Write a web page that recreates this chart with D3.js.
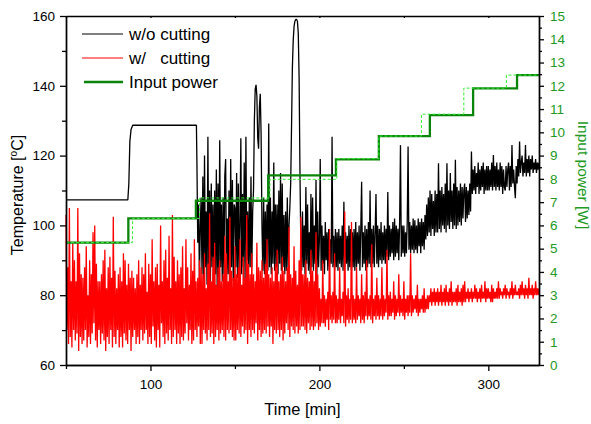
<!DOCTYPE html>
<html>
<head>
<meta charset="utf-8">
<script src="https://cdn.jsdelivr.net/npm/d3@7"></script>
<style>
  body { margin: 0; background: #fff; }
  text { font-family: "Liberation Sans", Arial, sans-serif; }
</style>
</head>
<body>
<div id="chart"></div>
<script>
// readings every half minute
var step = 0.5;

// w/ cutting (red), 50..330 min
var redStart = 50;
var redTemp = [
  103,70,88,66,105,68,84,65,95,70,90,67,84,69,105,64,92,68,86,66,
  85,67,88,70,94,65,80,68,90,66,86,69,98,72,100,67,89,65,84,70,
  84,66,86,69,90,67,93,64,82,68,88,66,91,70,85,65,102.5,68,87,66,
  82,70,86,65,88,68,84,65,92,69,90,67,83,66,89,70,85,64,87,68,
  85,70,82,66,86,68,90,66,83,70,88,67,86,69,92,70,81,66,89,68,
  86,66,96,71,84,67,88,65,89,70,83,65,100,72,84,68,90,66,93,69,
  85,67,97,70,82,66,103,68,91,70,84,66,90,69,86,66,88,68,94,67,
  82,69,96,72,88,67,83,70,92,66,87,67,96,70,84,68,85,71,90,66,
  88,66,86,70,92,69,82,67,89,70,103.5,68,84,69,91,66,95,68,83,70,
  88,67,90,69,84,70,86,68,97,67,92,70,84,69,102.5,70,87,68,85,67,
  94,67,86,70,88,69,96,68,83,71,91,69,85,70,103,66,89,70,86,68,
  92,70,86,69,84,72,95,67,88,70,87,68,90,69,85,70,89,69,96,71,
  86,68,85,71,88,66,84,70,89,69,93,70,84,68,86,70,91,67,87,69,
  84,72,88,70,99.6,68,86,71,85,70,94,69,87,71,83,69,90,70,102.5,71,
  86,71,86,70,90,69,85,72,84,70,93,71,87,70,84,71,98,72,86,70,
  82,71,79,72,90,72,80,71,79,73,81,70,99,73,80,72,81,73,92,72,
  80,72,79,73,88,72,79,74,81,72,104,71,80,73,82,72,79,73,101,72,
  80,73,79,72,88,73,80,74,79,72,86,73,80,72,81,74,90,73,79,74,
  80,73,94.6,72,79,74,80,73,85,74,80,73,79,74,88,73,80,74,79,75,
  93,73,80,74,81,74,79,75,84,73,80,74,79,75,86,74,80,75,79,74,
  84,73,79,75,80,74,80,75,92,74,80,75,79,76,80,75,83,74,79,75,
  79,76,80,75,82,75,79,76,80,76,80,78,82,77,81,78,82,77,81,78,
  82,77,81,78,83,77,81,78,82,77,83,78,81,77,82,78,84,77,81,78,
  81,78,82,77,83,78,81,78,82,77,83,78,84,78,81,79,82,78,81,79,
  82,78,81,79,83,79,82,78,81,79,82,78,83,79,81,79,84,78,82,79,
  82,79,81,78,83,78,82,79,81,79,82,79,84,79,82,80,81,79,82,80,
  83,79,82,80,81,79,82,80,84,79,82,80,83,80,81,80,82,79,83,80,
  84,80,82,79,83,80,82,79,85,80,82,80,83,79,82,80,84,80,82,80,
  82
];

// w/o cutting (black): quiet part before cutting starts
var blackHeadTime = [50, 86.6, 87.2, 87.8, 88.5, 89.5, 127.2];
var blackHeadTemp = [107.3, 107.3, 112, 124, 127.5, 128.7, 128.7];
// then noisy part, every half minute from 127.5 min
var blackNoiseStart = 127.5;
var blackNoise = [
  118,95,106,84,100,
  108,86,114,84,120,88,104,83,125.4,87,110,84,112,88,106,83,110,86,116,82,
  112,85,124.4,88,106,84,108,86,114,119,84,102,86,110,85,119,88,113,84,106,
  105,88,115,85,112,87,100,125,86,109,88,118,84,125.4,90,104,86,108,88,114,
  88,104,110,130,139,140.3,137,125,122,134,137.7,126,100,87,108,86,104,88,106,87,
  129.2,88,108,86,104,89,118,87,106,88,106,86,110,89,115,87,112,88,103,86,
  104,87,108,88,100,105,112,128,145,153,157,158.5,159,159,158.5,155,142,115,95,87,
  104,88,100,86,111,89,106,87,98,86,109,88,108,87,100,89,113,86,104,88,
  96,119,87,100,89,97,86,101,90,98,87,99,88,96,89,125.4,88,97,87,99,
  88,98,87,99,89,97,88,100,87,106.8,88,98,89,97,87,100,88,99,87,98,
  88,99,87,101,88,98,89,100,87,99,112.5,88,98,89,100,87,99,88,101,89,
  110,88,99,89,100,88,98,109,89,100,88,99,90,101,89,98,90,100,89,99,
  91,109.6,90,100,91,99,92,101,90,102,91,100,92,99,90,101,123,91,100,92,
  100,91,98,92,101,122.6,93,101,92,100,93,102,92,101.5,93,100,92,102,94,101,
  92,102,94,101,93,103,96,106,97,108,98,110,97,109,99,107,97,110,98,109,
  98,117.8,99,110,98,111,100,109,99,112,98,117.8,100,110,99,115,101,110,99,112,
  100,118.8,99,111,100,110,101,112,100,111,102,110,112,101,111,102,110,103,112,104,
  121.2,109,116,110,117,109,115,111,118,109,116,110,117,111,118,109,116,110,117,110,
  117,110,116,111,118,110,120.2,111,117,110,118,111,116,110,118,111,117,109,116,111,
  110,117,111,116,118,110,117,111,123,112,116,111,107.8,117,112,119,114,124,115,118,
  120,114,118,115,123,114,119,115,120,114,119,116,120,115,118,116,119,115,118,116,
  118
];

// input power (solid) and set value (dotted), step functions
var powerTime  = [50, 86.9, 126.9, 169.7, 209.8, 235.2, 265.4, 291, 317, 330];
var powerLevel = [5.26, 6.3, 7.06, 8.15, 8.84, 9.84, 10.74, 11.89, 12.46, 12.46];
var setTime    = [50, 89.4, 129, 170.7, 210.3, 235.2, 260.4, 285.5, 310.7, 330];
var setLevel   = [5.26, 6.3, 7.18, 7.98, 8.87, 9.84, 10.78, 11.9, 12.46, 12.46];

var tempTicks = [60, 80, 100, 120, 140, 160];
var tempMinor = [70, 90, 110, 130, 150];
var timeTicks = [100, 200, 300];
var timeMinor = [50, 150, 250];
var powerTicks = [0, 1, 2, 3, 4, 5, 6, 7, 8, 9, 10, 11, 12, 13, 14, 15];
var powerMinor = [0.5, 1.5, 2.5, 3.5, 4.5, 5.5, 6.5, 7.5, 8.5, 9.5, 10.5, 11.5, 12.5, 13.5, 14.5];

var W = 591, H = 424;
var marg = {left: 66, right: 52, top: 16, bot: 59};
var green = "#229922";

var svg = d3.select("#chart").append("svg")
  .attr("width", W).attr("height", H);

var x = d3.scaleLinear().domain([50, 330]).range([marg.left, W - marg.right]);
var y = d3.scaleLinear().domain([60, 160]).range([H - marg.bot, marg.top]);
var yP = d3.scaleLinear().domain([0, 15]).range([H - marg.bot, marg.top]);

var redPts = redTemp.map(function(v, i) { return [redStart + i * step, v]; });
var blackPts = blackHeadTime.map(function(t, i) { return [t, blackHeadTemp[i]]; })
  .concat(blackNoise.map(function(v, i) { return [blackNoiseStart + i * step, v]; }));

var tline = d3.line().x(function(d) { return x(d[0]); }).y(function(d) { return y(d[1]); });
var pline = d3.line().curve(d3.curveStepAfter)
  .x(function(d) { return x(d[0]); }).y(function(d) { return yP(d[1]); });

var plot = svg.append("g");
plot.append("path").datum(blackPts).attr("d", tline)
  .attr("fill", "none").attr("stroke", "#000").attr("stroke-width", 1.3).attr("stroke-linejoin", "bevel");
plot.append("path").datum(redPts).attr("d", tline)
  .attr("fill", "none").attr("stroke", "#ff0000").attr("stroke-width", 1.3).attr("stroke-linejoin", "bevel");
plot.append("path").datum(powerTime.map(function(t, i) { return [t, powerLevel[i]]; })).attr("d", pline)
  .attr("fill", "none").attr("stroke", "#0a850a").attr("stroke-width", 2.3);
plot.append("path").datum(setTime.map(function(t, i) { return [t, setLevel[i]]; })).attr("d", pline)
  .attr("fill", "none").attr("stroke", "#33ee33").attr("stroke-width", 1).attr("stroke-dasharray", "3,2");

// axes
function styleAxis(g) {
  g.select(".domain").attr("stroke", "#000").attr("stroke-width", 1.4);
  g.selectAll(".tick line").attr("stroke", "#000").attr("stroke-width", 1.3);
  g.selectAll(".tick text").attr("font-size", 13.5).attr("fill", "#000")
    .attr("font-family", "'Liberation Sans', Arial, sans-serif");
}

var xb = svg.append("g").attr("transform", "translate(0," + (H - marg.bot) + ")");
xb.call(d3.axisBottom(x).tickValues(timeTicks).tickSize(6).tickPadding(8).tickSizeOuter(0));
styleAxis(xb);
var xbm = svg.append("g").attr("transform", "translate(0," + (H - marg.bot) + ")");
xbm.call(d3.axisBottom(x).tickValues(timeMinor).tickSize(4).tickFormat("").tickSizeOuter(0));
styleAxis(xbm);

var xt = svg.append("g").attr("transform", "translate(0," + marg.top + ")");
xt.call(d3.axisBottom(x).tickValues(timeTicks.concat(timeMinor)).tickSize(2).tickFormat("").tickSizeOuter(0));
styleAxis(xt);

var yl = svg.append("g").attr("transform", "translate(" + marg.left + ",0)");
yl.call(d3.axisLeft(y).tickValues(tempTicks).tickSize(6).tickPadding(5).tickSizeOuter(0));
styleAxis(yl);
var ylm = svg.append("g").attr("transform", "translate(" + marg.left + ",0)");
ylm.call(d3.axisLeft(y).tickValues(tempMinor).tickSize(4).tickFormat("").tickSizeOuter(0));
styleAxis(ylm);

var yr = svg.append("g").attr("transform", "translate(" + (W - marg.right) + ",0)");
yr.call(d3.axisRight(yP).tickValues(powerTicks).tickSize(5).tickPadding(6).tickSizeOuter(0));
styleAxis(yr);
yr.selectAll(".tick text").attr("fill", green);
var yrm = svg.append("g").attr("transform", "translate(" + (W - marg.right) + ",0)");
yrm.call(d3.axisRight(yP).tickValues(powerMinor).tickSize(3).tickFormat("").tickSizeOuter(0));
styleAxis(yrm);

// axis titles
svg.append("text").attr("x", x(190)).attr("y", 415).attr("text-anchor", "middle")
  .attr("font-size", 16.5).text("Time [min]");

var yt = svg.append("text").attr("transform", "translate(23,195) rotate(-90)")
  .attr("text-anchor", "middle").attr("font-size", 16);
yt.append("tspan").text("Temperature [");
yt.append("tspan").attr("font-size", 10).attr("dy", -6).text("o");
yt.append("tspan").attr("dy", 6).text("C]");

svg.append("text").attr("transform", "translate(578,175) rotate(90)")
  .attr("text-anchor", "middle").attr("font-size", 15.5).attr("fill", green)
  .text("Input power [W]");

// legend
var legend = [
  {label: "w/o cutting", color: "#000", width: 1, x0: 82},
  {label: "w/   cutting", color: "#ff0000", width: 1, x0: 82},
  {label: "Input power", color: "#0a850a", width: 2.3, x0: 84}
];
var lg = svg.append("g").selectAll("g").data(legend).enter().append("g")
  .attr("transform", function(d, i) { return "translate(0," + (34 + i * 24) + ")"; });
lg.append("line").attr("x1", function(d) { return d.x0; }).attr("x2", 123)
  .attr("stroke", function(d) { return d.color; }).attr("stroke-width", function(d) { return d.width; });
lg.append("text").attr("x", 129).attr("dy", "0.36em").attr("font-size", 17)
  .style("white-space", "pre").text(function(d) { return d.label; });
</script>
</body>
</html>
